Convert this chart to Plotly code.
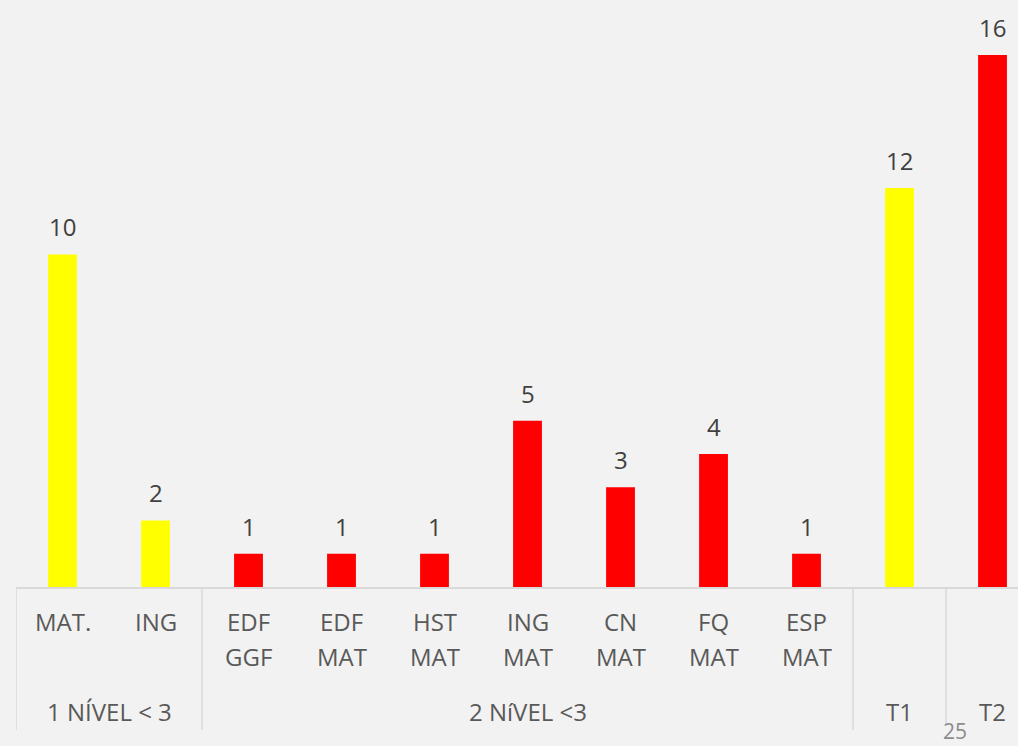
import plotly.graph_objects as go

categories = ["MAT.", "ING", "EDF<br>GGF", "EDF<br>MAT", "HST<br>MAT", "ING<br>MAT",
              "CN<br>MAT", "FQ<br>MAT", "ESP<br>MAT", "", ""]
values = [10, 2, 1, 1, 1, 5, 3, 4, 1, 12, 16]
bar_colors = ["#FFFF00", "#FFFF00", "#FF0000", "#FF0000", "#FF0000", "#FF0000",
              "#FF0000", "#FF0000", "#FF0000", "#FFFF00", "#FF0000"]
groups = ["1 NÍVEL < 3", "2 NíVEL <3", "T1", "T2"]
group_spans = [(0, 1), (2, 8), (9, 9), (10, 10)]
page_number = "25"

FONT = "Open Sans"
xs = list(range(len(values)))

fig = go.Figure()
fig.add_trace(go.Bar(x=xs, y=values, marker_color=bar_colors, width=0.31,
                     marker_line_width=0, hoverinfo="skip"))

annotations = []
# data labels
for x, v in zip(xs, values):
    annotations.append(dict(x=x, y=v, xref="x", yref="y", text=str(v), showarrow=False,
                            yanchor="bottom", yshift=9,
                            font=dict(family=FONT, size=24, color="#404040")))
# category labels (two rows)
plot_h = 587.0
row_y = [621, 656]
for x, lab in zip(xs, categories):
    for i, line in enumerate(lab.split("<br>")):
        if not line:
            continue
        annotations.append(dict(x=x, y=-(row_y[i] - plot_h) / plot_h, xref="x", yref="paper",
                                text=line, showarrow=False, yanchor="middle", xanchor="center",
                                font=dict(family=FONT, size=24, color="#595959")))
# group labels
for g, (a, b) in zip(groups, group_spans):
    annotations.append(dict(x=(a + b) / 2, y=-(711 - plot_h) / plot_h, xref="x", yref="paper",
                            text=g, showarrow=False, yanchor="middle", xanchor="center",
                            font=dict(family=FONT, size=24, color="#595959")))
# page number
annotations.append(dict(x=(955 - 16) / 1002.0, y=-(746 - plot_h) / plot_h,
                        xref="paper", yref="paper", text=page_number,
                        showarrow=False, yanchor="bottom", xanchor="center", borderpad=0,
                        font=dict(family=FONT, size=21, color="#8C8C8C")))

shapes = []
sep_pos = [-0.5, 1.5, 8.5, 9.5]
sep_ends = [730, 730, 730, 725]
for xp, ye in zip(sep_pos, sep_ends):
    shapes.append(dict(type="line", xref="x", yref="paper", x0=xp, x1=xp,
                       y0=0, y1=-(ye - plot_h) / plot_h,
                       line=dict(color="#D9D9D9", width=1.5)))

fig.update_layout(
    width=1018, height=746,
    margin=dict(l=16, r=0, t=0, b=746 - 587),
    paper_bgcolor="#F2F2F2", plot_bgcolor="#F2F2F2",
    showlegend=False,
    xaxis=dict(range=[-0.5, 10.274], showticklabels=False, showgrid=False, zeroline=False,
               showline=True, linecolor="#D9D9D9", linewidth=1.5, ticks="", fixedrange=True),
    yaxis=dict(range=[0, 17.65], visible=False, showgrid=False, zeroline=False, fixedrange=True),
    annotations=annotations, shapes=shapes,
)

fig.write_html("out.html", config={"displayModeBar": False, "staticPlot": True},
               post_script="document.body.style.margin='0';document.body.style.overflow='hidden';")
